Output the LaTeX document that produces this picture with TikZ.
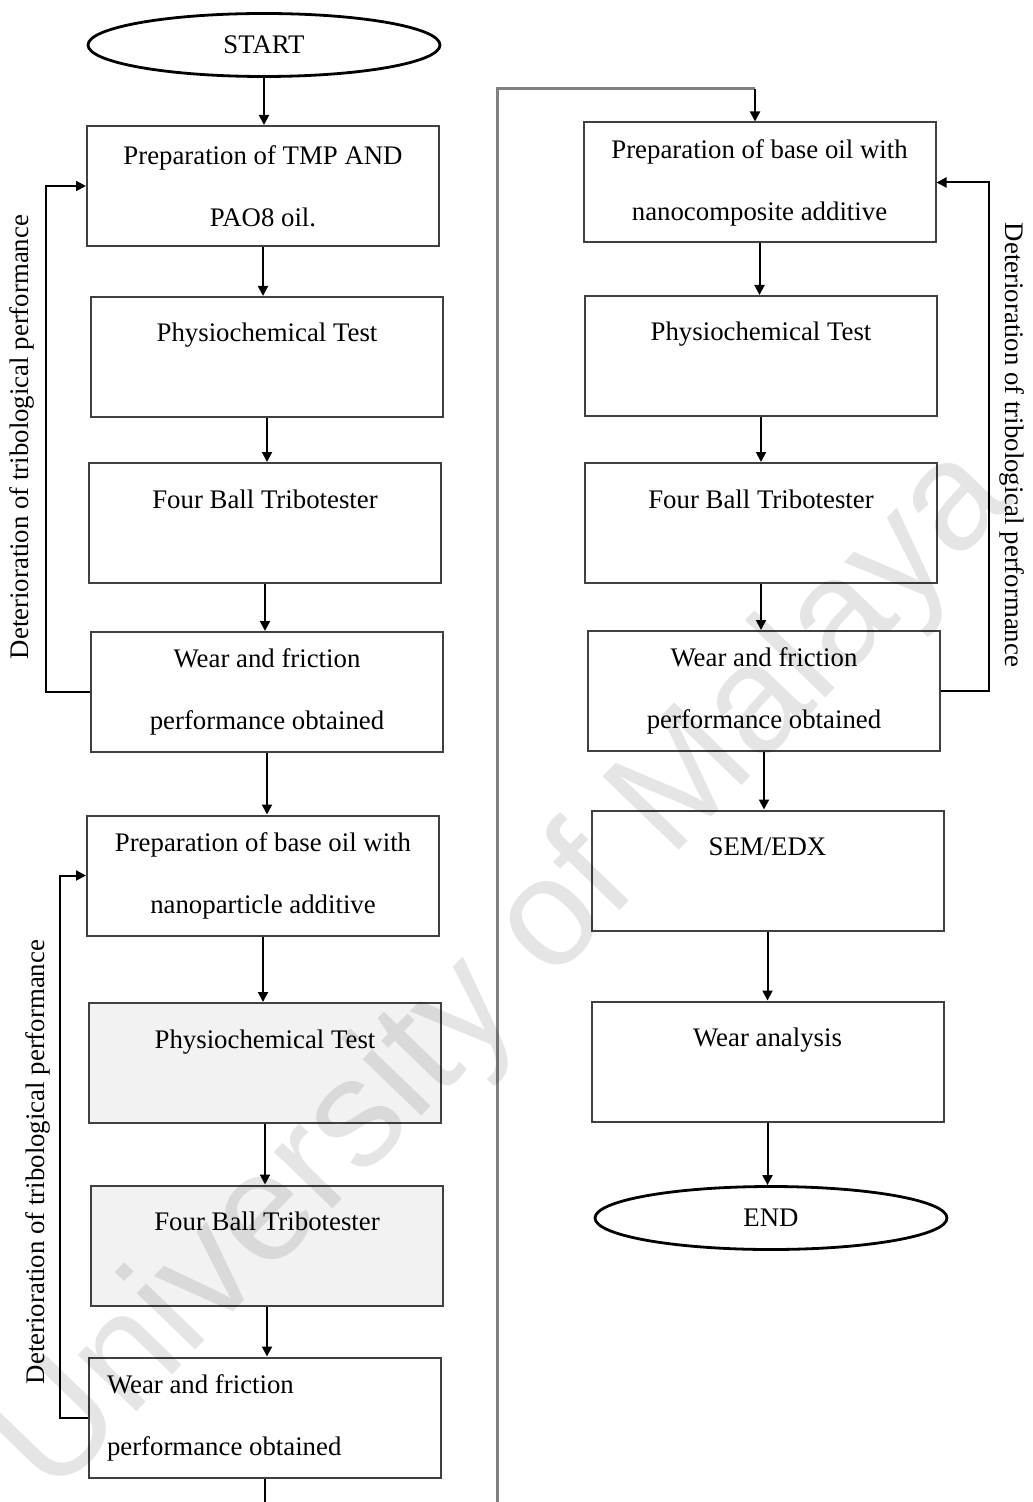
\documentclass[tikz,border=0pt]{standalone}
\usepackage{fontspec}
\setmainfont{Liberation Serif}
\newfontfamily\wmfont{Liberation Sans}
\usetikzlibrary{shapes.geometric, arrows.meta, positioning}

\begin{document}
\begin{tikzpicture}[
    x=0.5pt, y=-0.5pt,
    font=\fontsize{13.4}{31}\selectfont,
    box/.style={rectangle, draw=black!75, line width=1pt, align=center, minimum width=176pt, minimum height=60pt, inner sep=0pt},
    onebox/.style={box, text height=9.5pt, text depth=24.5pt},
    greybox/.style={onebox, fill=black!5},
    term/.style={ellipse, draw, line width=1.4pt, minimum width=176pt, minimum height=31.5pt, inner sep=0pt},
    arrow/.style={-{Triangle[length=5pt, width=5pt]}, line width=1pt},
    note/.style={inner sep=0pt}
]
\useasboundingbox (0,0) rectangle (1032,1502);

% Left column
\node (start) [term] at (264,45) {START};
\node (prep1) [box] at (263,186) {Preparation of TMP AND\\PAO8 oil.};
\node (phys1) [onebox] at (267,357) {Physiochemical Test};
\node (four1) [onebox] at (265,523) {Four Ball Tribotester};
\node (wear1) [box] at (267,692) {Wear and friction\\performance obtained};
\node (prep2) [box] at (263,875.5) {Preparation of base oil with\\nanoparticle additive};
\node (phys2) [greybox] at (265,1063) {Physiochemical Test};
\node (four2) [greybox] at (267,1245.5) {Four Ball Tribotester};
\node (wear2) [box, align=flush left, text width=158pt] at (265,1417.5) {Wear and friction\\performance obtained};

% Right column
\node (prep3) [box] at (759.5,182.5) {Preparation of base oil with\\nanocomposite additive};
\node (phys3) [onebox] at (761,356) {Physiochemical Test};
\node (four3) [onebox] at (761,523) {Four Ball Tribotester};
\node (wear3) [box] at (764,691) {Wear and friction\\performance obtained};
\node (sem) [onebox] at (767.5,870.5) {SEM/EDX};
\node (anal) [onebox] at (767.5,1061.5) {Wear analysis};
\node (end) [term] at (771,1218) {END};

% Loop labels
\node (det1) [note, rotate=90] at (22,437) {Deterioration of tribological performance};
\node (det2) [note, rotate=90] at (38,1162) {Deterioration of tribological performance};
\node (det3) [note, rotate=-90] at (1012,445) {Deterioration of tribological performance};

% Page break link
\coordinate (rbot) at (497,1502);
\coordinate (rtop) at (755,89);

% Arrows
\draw [arrow] (start.south) -- (start.south |- prep1.north);
\draw [arrow] (prep1.south) -- (prep1.south |- phys1.north);
\draw [arrow] (phys1.south) -- (phys1.south |- four1.north);
\draw [arrow] (four1.south) -- (four1.south |- wear1.north);
\draw [arrow] (wear1.south) -- (wear1.south |- prep2.north);
\draw [arrow] (prep2.south) -- (prep2.south |- phys2.north);
\draw [arrow] (phys2.south) -- (phys2.south |- four2.north);
\draw [arrow] (four2.south) -- (four2.south |- wear2.north);
\draw [line width=1pt] (wear2.south) -- (wear2.south |- rbot);
\draw [gray, line width=1.5pt] (rbot) |- (rtop);
\draw [arrow] (rtop) -- (prep3.north -| rtop);
\draw [arrow] (prep3.south) -- (prep3.south |- phys3.north);
\draw [arrow] (phys3.south) -- (phys3.south |- four3.north);
\draw [arrow] (four3.south) -- (four3.south |- wear3.north);
\draw [arrow] (wear3.south) -- (wear3.south |- sem.north);
\draw [arrow] (sem.south) -- (sem.south |- anal.north);
\draw [arrow] (anal.south) -- (anal.south |- end.north);

% Feedback loops
\draw [arrow] (wear1.west) -- ++(-44,0) |- (prep1.west);
\draw [arrow] (wear2.west) -- ++(-28,0) |- (prep2.west);
\draw [arrow] (wear3.east) -- ++(48,0) |- (prep3.east);

% Watermark
\node (wmark) [rotate=46, text=black, text opacity=0.1, font=\wmfont\fontsize{77}{77}\selectfont] at (505,973) {University of Malaya};

\end{tikzpicture}
\end{document}
